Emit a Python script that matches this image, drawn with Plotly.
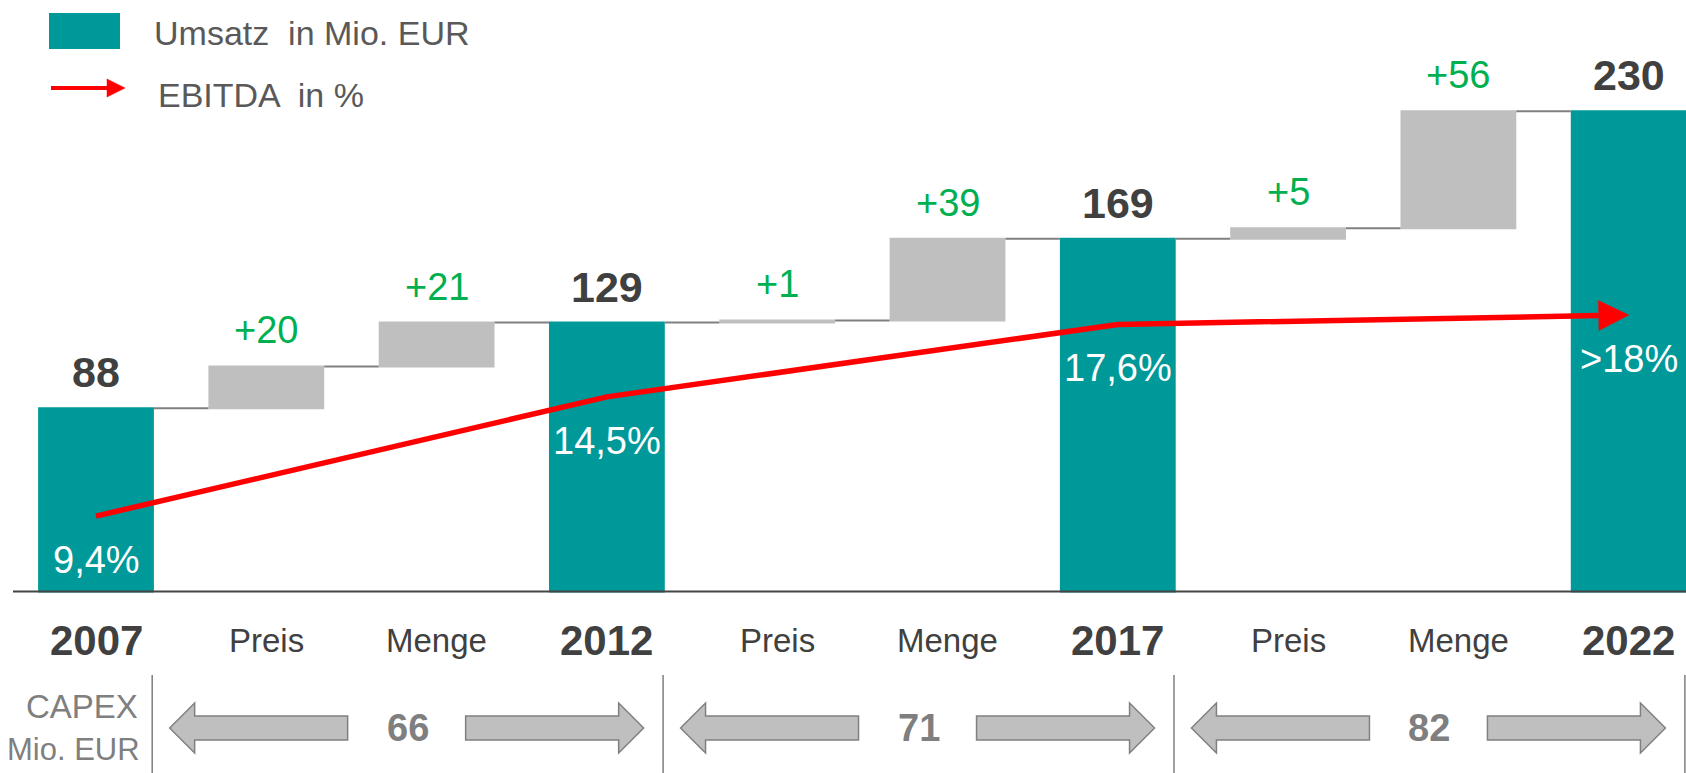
import math
import plotly.graph_objects as go

# ---------------- data ----------------
categories = ["2007", "Preis", "Menge", "2012", "Preis", "Menge", "2017", "Preis", "Menge", "2022"]
measures = ["absolute", "relative", "relative", "total", "relative", "relative",
            "total", "relative", "relative", "total"]
umsatz = [88, 20, 21, 129, 1, 39, 169, 5, 56, 230]

ebitda_pos = [0, 3, 6, 9]
ebitda = [9.4, 14.5, 17.6, 18.0]
ebitda_labels = ["9,4%", "14,5%", "17,6%", ">18%"]

capex = [66, 71, 82]
capex_title = ["CAPEX", "Mio. EUR"]

legend_labels = ["Umsatz  in Mio. EUR", "EBITDA  in %"]

# ---------------- style / layout constants ----------------
W, H = 1686, 773
TEAL = "#009999"
GREY_BAR = "#BFBFBF"
DARK = "#404040"
MID = "#7F7F7F"
GREEN = "#00B050"
RED = "#FF0000"
FONT = "Liberation Sans, Arial, sans-serif"

X0, X1 = -0.5637, 9.3365          # x range (category index)
Y_TOP = 283.1                      # primary y range top
Y2_RANGE = [6.13, 31.48]           # EBITDA axis range
DOM_BOTTOM = 0.2335                # paper fraction of baseline
PLOT_H = H * (1 - DOM_BOTTOM)
PX_X = W / (X1 - X0)
PX_Y2 = PLOT_H / (Y2_RANGE[1] - Y2_RANGE[0])


def py(pix):
    """pixel row -> paper y"""
    return (H - pix) / H


def px(pix):
    """pixel column -> paper x"""
    return pix / W


xs = list(range(len(categories)))

fig = go.Figure()

# ---------------- waterfall ----------------
fig.add_trace(go.Waterfall(
    x=xs, y=umsatz, measure=measures, width=0.68,
    increasing=dict(marker=dict(color=GREY_BAR, line=dict(width=0))),
    decreasing=dict(marker=dict(color=GREY_BAR, line=dict(width=0))),
    totals=dict(marker=dict(color=TEAL, line=dict(width=0))),
    connector=dict(mode="between", line=dict(color="#808080", width=2)),
    textinfo="none", showlegend=False, yaxis="y",
))

# value labels above bars
level = 0
for i, (m, v) in enumerate(zip(measures, umsatz)):
    if m == "absolute":
        level = v
    elif m == "relative":
        level += v
    if m == "relative":
        txt, fnt = f"+{v}", dict(family=FONT, size=38, color=GREEN)
    else:
        txt, fnt = f"<b>{level}</b>", dict(family=FONT, size=43, color=DARK)
    fig.add_annotation(x=i, y=level, xref="x", yref="y", text=txt, showarrow=False,
                       yshift=36, yanchor="middle", font=fnt)

# ---------------- EBITDA line with arrow head ----------------
head_len, head_half = 30, 15
dxp = (ebitda_pos[-1] - ebitda_pos[-2]) * PX_X
dyp = (ebitda[-1] - ebitda[-2]) * PX_Y2
n = math.hypot(dxp, dyp)
ux, uy = dxp / n, dyp / n
bx = ebitda_pos[-1] - head_len * ux / PX_X
by = ebitda[-1] - head_len * uy / PX_Y2
line_x = ebitda_pos[:-1] + [bx]
line_y = ebitda[:-1] + [by]
fig.add_trace(go.Scatter(x=line_x, y=line_y, yaxis="y2", mode="lines",
                         line=dict(color=RED, width=5.5), showlegend=False,
                         hoverinfo="skip"))
tri_x = [ebitda_pos[-1], bx - head_half * uy / PX_X, bx + head_half * uy / PX_X, ebitda_pos[-1]]
tri_y = [ebitda[-1], by + head_half * ux / PX_Y2, by - head_half * ux / PX_Y2, ebitda[-1]]
fig.add_trace(go.Scatter(x=tri_x, y=tri_y, yaxis="y2", mode="lines", fill="toself",
                         fillcolor=RED, line=dict(color=RED, width=0.5),
                         showlegend=False, hoverinfo="skip"))

for xi, v, lab in zip(ebitda_pos, ebitda, ebitda_labels):
    fig.add_annotation(x=xi, y=v, xref="x", yref="y2", text=lab, showarrow=False,
                       yshift=-44, yanchor="middle",
                       font=dict(family=FONT, size=38, color="white"))

# ---------------- baseline ----------------
fig.add_shape(type="line", xref="paper", yref="y", x0=px(13), x1=1, y0=0, y1=0,
              line=dict(color="#454545", width=4), layer="above")

# ---------------- category labels ----------------
for i, c in enumerate(categories):
    if c.isdigit():
        txt, fnt = f"<b>{c}</b>", dict(family=FONT, size=42, color=DARK)
    else:
        txt, fnt = c, dict(family=FONT, size=33, color=DARK)
    fig.add_annotation(x=i, y=py(640), xref="x", yref="paper", text=txt, showarrow=False,
                       yanchor="middle", font=fnt)

# ---------------- CAPEX row ----------------
fig.add_annotation(x=px(140), y=py(706), xref="paper", yref="paper", text=capex_title[0],
                   showarrow=False, xanchor="right", yanchor="middle",
                   font=dict(family=FONT, size=33, color=MID))
fig.add_annotation(x=px(142), y=py(749), xref="paper", yref="paper", text=capex_title[1],
                   showarrow=False, xanchor="right", yanchor="middle",
                   font=dict(family=FONT, size=31, color=MID))

year_idx = [i for i, c in enumerate(categories) if c.isdigit()]
div_off = 0.33
for k in year_idx:
    fig.add_shape(type="line", xref="x", yref="paper", x0=k + div_off, x1=k + div_off,
                  y0=py(675), y1=py(773), line=dict(color=MID, width=1.5))

yc, sh, hh = 728, 12, 25
for seg, val in enumerate(capex):
    a, b = year_idx[seg] + div_off, year_idx[seg + 1] + div_off
    m = (a + b) / 2
    d = lambda p: m + p / PX_X
    # left arrow
    lt, lb, le = d(-238), d(-213), d(-60)
    path_l = (f"M {lt},{py(yc)} L {lb},{py(yc - hh)} L {lb},{py(yc - sh)} L {le},{py(yc - sh)} "
              f"L {le},{py(yc + sh)} L {lb},{py(yc + sh)} L {lb},{py(yc + hh)} Z")
    rt, rb, rs = d(236), d(211), d(58)
    path_r = (f"M {rt},{py(yc)} L {rb},{py(yc - hh)} L {rb},{py(yc - sh)} L {rs},{py(yc - sh)} "
              f"L {rs},{py(yc + sh)} L {rb},{py(yc + sh)} L {rb},{py(yc + hh)} Z")
    for p in (path_l, path_r):
        fig.add_shape(type="path", path=p, xref="x", yref="paper",
                      fillcolor=GREY_BAR, line=dict(color="#808080", width=1.5))
    fig.add_annotation(x=m, y=py(yc), xref="x", yref="paper", text=f"<b>{val}</b>",
                       showarrow=False, yanchor="middle",
                       font=dict(family=FONT, size=38, color=MID))

# ---------------- custom legend ----------------
fig.add_shape(type="rect", xref="paper", yref="paper", x0=px(49), x1=px(120),
              y0=py(49), y1=py(13), fillcolor=TEAL, line=dict(width=0))
fig.add_shape(type="line", xref="paper", yref="paper", x0=px(51), x1=px(110),
              y0=py(88), y1=py(88), line=dict(color=RED, width=4))
fig.add_shape(type="path", xref="paper", yref="paper",
              path=f"M {px(125)},{py(88)} L {px(107)},{py(79)} L {px(107)},{py(97)} Z",
              fillcolor=RED, line=dict(color=RED, width=0.5))
fig.add_annotation(x=px(152), y=py(33), xref="paper", yref="paper", text=legend_labels[0],
                   showarrow=False, xanchor="left", yanchor="middle",
                   font=dict(family=FONT, size=34, color="#595959"))
fig.add_annotation(x=px(156), y=py(95), xref="paper", yref="paper", text=legend_labels[1],
                   showarrow=False, xanchor="left", yanchor="middle",
                   font=dict(family=FONT, size=34, color="#595959"))

# ---------------- layout ----------------
fig.update_layout(
    width=W, height=H,
    margin=dict(l=0, r=0, t=0, b=0, pad=0),
    paper_bgcolor="white", plot_bgcolor="white",
    showlegend=False,
    xaxis=dict(range=[X0, X1], visible=False, fixedrange=True),
    yaxis=dict(range=[0, Y_TOP], domain=[DOM_BOTTOM, 1], visible=False, fixedrange=True),
    yaxis2=dict(range=Y2_RANGE, overlaying="y", visible=False, fixedrange=True),
    font=dict(family=FONT),
)

fig.write_html("out.html", config={"displayModeBar": False},
               post_script="document.body.style.margin='0';document.body.style.overflow='hidden';")
